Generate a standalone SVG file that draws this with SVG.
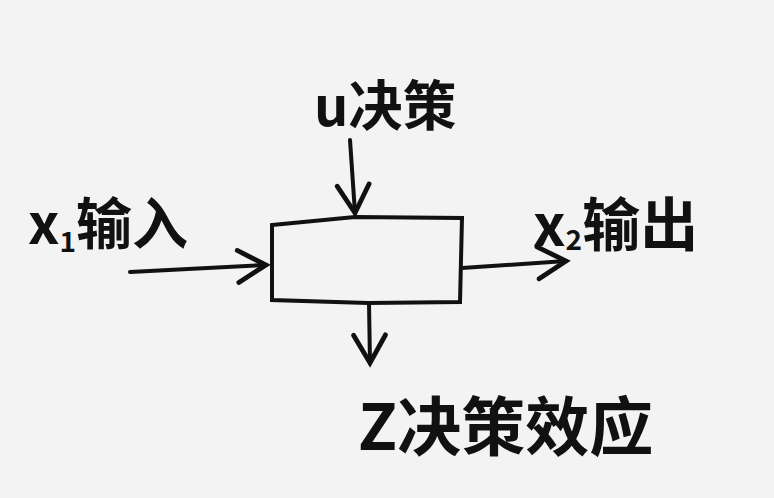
<svg xmlns="http://www.w3.org/2000/svg" width="774" height="498" viewBox="0 0 774 498">
<defs>
<marker id="ah" markerWidth="10" markerHeight="10" refX="8" refY="5" orient="auto" markerUnits="strokeWidth">
<path d="M1,1 L8,5 L1,9" fill="none" stroke="#111" stroke-width="1.2" stroke-linecap="round"/>
</marker>
<style>
.lbl{font-family:"Noto Sans CJK SC","Noto Sans",sans-serif;fill:#111;font-weight:bold}
.ln{stroke:#111;stroke-width:4;fill:none;stroke-linecap:round}
</style>
</defs>
<rect width="774" height="498" fill="#f3f3f3"/>
<g id="box">
<path class="ln" d="M272,225 L355,217 L462,218 L460,302 L368,303 L272,300 Z" stroke-width="5"/>
</g>
<g id="connectors">
<path class="ln" d="M350,140 L355,213" marker-end="url(#ah)"/>
<path class="ln" d="M130,272 L266,265" marker-end="url(#ah)"/>
<path class="ln" d="M462,268 L566,261" marker-end="url(#ah)"/>
<path class="ln" d="M369,303 L370,363" marker-end="url(#ah)"/>
</g>
<g id="label-u"><text class="lbl" x="314" y="126" font-size="54">u决策</text></g>
<g id="label-x1"><text class="lbl" x="28" y="244" font-size="56">x<tspan font-size="28" dy="8">1</tspan><tspan dy="-8">输入</tspan></text></g>
<g id="label-x2"><text class="lbl" x="533" y="246" font-size="58">x<tspan font-size="28" dy="4">2</tspan><tspan dy="-4">输出</tspan></text></g>
<g id="label-z"><text class="lbl" x="358" y="450" font-size="64">Z决策效应</text></g>
</svg>
